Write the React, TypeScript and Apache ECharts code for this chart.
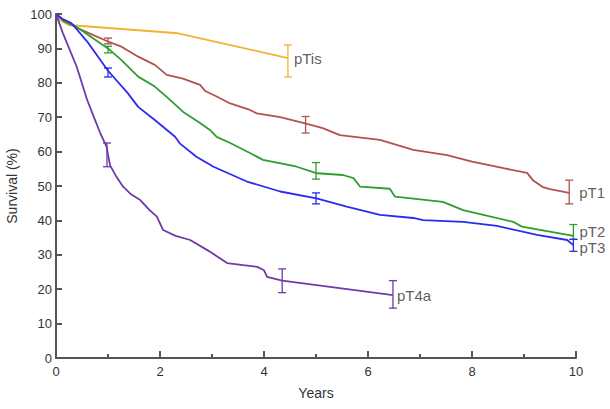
import React, { useEffect, useRef } from "react";
import * as echarts from "echarts";

// Kaplan-Meier curves: [years, survival %]
const pTis: number[][] = [[0, 100], [0.05, 98.5], [0.24, 96.8], [2.35, 94.4], [4.46, 87.2]];
const pT1: number[][] = [
  [0, 100], [0.15, 98], [0.4, 96], [0.62, 94.5], [1, 92], [1.26, 90.5], [1.58, 87.6], [1.9, 85.2],
  [2.13, 82.3], [2.44, 81.2], [2.77, 79.4], [2.87, 77.6], [3.09, 76], [3.35, 74], [3.73, 72.1],
  [3.86, 71.1], [4.31, 70], [4.79, 68.2], [5.13, 66.8], [5.46, 64.8], [6.23, 63.4], [6.87, 60.5],
  [7.52, 59], [8.0, 57.1], [8.63, 55.1], [9.06, 53.8], [9.17, 51.7], [9.36, 49.7], [9.5, 49.1], [9.87, 48]
];
const pT2: number[][] = [
  [0, 100], [0.15, 98], [0.37, 96.5], [0.62, 93.9], [1, 90], [1.26, 86.6], [1.58, 81.8], [1.9, 78.9],
  [2.15, 75.6], [2.44, 71.6], [2.77, 68.3], [2.96, 66.3], [3.09, 64.3], [3.35, 62.5], [3.73, 59.6],
  [3.98, 57.6], [4.37, 56.4], [4.63, 55.6], [5.02, 53.7], [5.52, 53.2], [5.72, 52.3], [5.85, 49.8],
  [6.42, 49.2], [6.52, 46.9], [7.44, 45.4], [7.83, 43], [8.79, 39.6], [8.96, 38.2], [9.95, 35.5]
];
const pT3: number[][] = [
  [0, 100], [0.13, 98.5], [0.3, 97.3], [0.62, 91.6], [1, 83.5], [1.38, 77], [1.58, 73], [1.9, 69.2],
  [2.29, 64.3], [2.38, 62.4], [2.7, 58.5], [3.03, 55.6], [3.67, 51.3], [4.31, 48.4], [5.01, 46.4],
  [5.59, 44], [6.23, 41.6], [6.87, 40.7], [7.06, 40.1], [7.83, 39.6], [8.48, 38.4], [9.25, 35.8],
  [9.83, 34.3], [9.95, 32.8]
];
const pT4a: number[][] = [
  [0, 100], [0.13, 94.5], [0.4, 84.6], [0.6, 75], [0.75, 69.2], [0.85, 65.4], [0.97, 61.5], [1.04, 56],
  [1.15, 53], [1.29, 49.8], [1.45, 47.5], [1.62, 45.9], [1.8, 43], [1.94, 41.1], [2.06, 37.2],
  [2.3, 35.5], [2.58, 34.3], [2.95, 31], [3.29, 27.6], [3.6, 27], [3.87, 26.5], [4.0, 25.5],
  [4.06, 23.6], [4.35, 22.5], [6.48, 18.3]
];

// Confidence bars: [years, low, high]
const barsTis: number[][] = [[4.46, 81.7, 91]];
const barsT1: number[][] = [[1, 91.3, 93], [4.8, 65.4, 70.2], [9.87, 44.8, 51.7]];
const barsT2: number[][] = [[1, 88.7, 90.6], [5.0, 52, 56.8], [9.95, 34.5, 38.8]];
const barsT3: number[][] = [[1, 81.7, 84.3], [5.0, 44.8, 48], [9.95, 31, 34.5]];
const barsT4a: number[][] = [[0.98, 55.6, 62.5], [4.35, 19, 25.9], [6.48, 14.5, 22.5]];

// Curve labels
const labelNames = ["pTis", "pT1", "pT2", "pT3", "pT4a"];
const labelPoints: number[][] = [[4.46, 87.2], [9.87, 48], [9.95, 36.7], [9.95, 32.2], [6.48, 18.3]];
const labelGaps = [6, 10, 6, 6, 4];

const xTicks = { min: 0, max: 10, interval: 2 };
const yTicks = { min: 0, max: 100, interval: 10 };

const colors = ["#f2b233", "#b5504e", "#2e9e2e", "#2b2bef", "#6e3aa8"];

function errorSeries(data: number[][], color: string) {
  return {
    type: "custom",
    data,
    z: 3,
    renderItem: (params: any, api: any) => {
      const t = api.value(0);
      const lo = api.coord([t, api.value(1)]);
      const hi = api.coord([t, api.value(2)]);
      const w = 4;
      const style = { stroke: color, lineWidth: 1.3 };
      return {
        type: "group",
        children: [
          { type: "line", shape: { x1: lo[0], y1: lo[1], x2: hi[0], y2: hi[1] }, style },
          { type: "line", shape: { x1: lo[0] - w, y1: lo[1], x2: lo[0] + w, y2: lo[1] }, style },
          { type: "line", shape: { x1: hi[0] - w, y1: hi[1], x2: hi[0] + w, y2: hi[1] }, style },
        ],
      };
    },
  };
}

function lineSeries(data: number[][], color: string) {
  return {
    type: "line",
    data,
    showSymbol: false,
    symbol: "none",
    lineStyle: { color, width: 1.8 },
    z: 2,
  };
}

export default function App() {
  const ref = useRef<HTMLDivElement>(null);
  useEffect(() => {
    if (!ref.current) return;
    const chart = echarts.init(ref.current, null, { renderer: "svg" });
    const font = "'Liberation Sans', Arial, Helvetica, sans-serif";
    const curves = [pTis, pT1, pT2, pT3, pT4a];
    const bars = [barsTis, barsT1, barsT2, barsT3, barsT4a];
    const series: any[] = [];
    curves.forEach((c, i) => series.push(lineSeries(c, colors[i])));
    bars.forEach((b, i) => series.push(errorSeries(b, colors[i])));
    series.push({
      type: "scatter",
      symbolSize: 0,
      z: 4,
      data: labelNames.map((n, i) => ({
        name: n,
        value: labelPoints[i],
        label: {
          show: true,
          position: "right",
          distance: labelGaps[i],
          formatter: n,
          color: "#333",
          fontSize: 15,
          fontFamily: font,
        },
      })),
    });
    chart.setOption({
      animation: false,
      backgroundColor: "#fff",
      grid: { left: 56, right: 34, top: 14, bottom: 51, containLabel: false, outerBoundsMode: "none" },
      xAxis: {
        type: "value",
        min: xTicks.min,
        max: xTicks.max,
        interval: xTicks.interval,
        name: "Years",
        nameLocation: "middle",
        nameGap: 28,
        nameTextStyle: { color: "#333", fontSize: 14, fontFamily: font },
        axisLine: { show: true, lineStyle: { color: "#555", width: 2 } },
        axisTick: { show: true, inside: true, length: 7, lineStyle: { color: "#555", width: 2 } },
        minorTick: { show: true, splitNumber: 2, length: 4, lineStyle: { color: "#555", width: 2 } },
        axisLabel: { color: "#333", fontSize: 13, fontFamily: font, margin: 7 },
        splitLine: { show: false },
        minorSplitLine: { show: false },
      },
      yAxis: {
        type: "value",
        min: yTicks.min,
        max: yTicks.max,
        interval: yTicks.interval,
        name: "Survival (%)",
        nameLocation: "middle",
        nameGap: 28,
        nameTextStyle: { color: "#333", fontSize: 14, fontFamily: font },
        axisLine: { show: true, lineStyle: { color: "#555", width: 2 } },
        axisTick: { show: true, inside: true, length: 6, lineStyle: { color: "#555", width: 2 } },
        axisLabel: { color: "#333", fontSize: 13, fontFamily: font, margin: 4 },
        splitLine: { show: false },
      },
      series,
    });
    return () => chart.dispose();
  }, []);
  return <div ref={ref} style={{ width: 610, height: 409, position: "absolute", left: 0, top: 0 }} />;
}
